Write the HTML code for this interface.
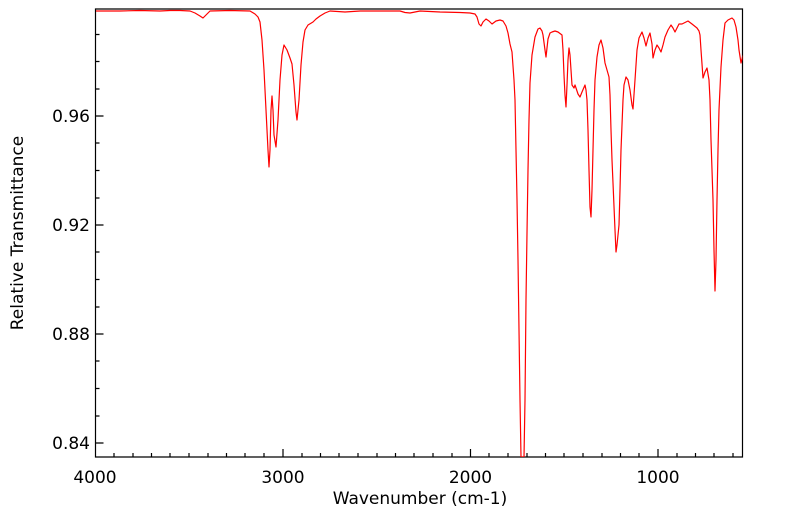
<!DOCTYPE html>
<html><head><meta charset="utf-8"><style>
html,body{margin:0;padding:0;background:#fff;}
svg{display:block;font-family:"DejaVu Sans","Liberation Sans",sans-serif;}
</style></head><body>
<svg width="799" height="516" viewBox="0 0 799 516" xmlns="http://www.w3.org/2000/svg">
<rect x="0" y="0" width="799" height="516" fill="#fff"/>
<g stroke="#000" stroke-width="1.2" fill="none">
<path d="M95.5,457 V9 H742.5 V457 Z"/>
<path d="M283,457 v-8 M470.5,457 v-8 M658,457 v-8"/>
<path d="M114,457 v-4 M133,457 v-4 M151.5,457 v-4 M170,457 v-4 M189,457 v-4 M208,457 v-4 M226.5,457 v-4 M245,457 v-4 M264,457 v-4 M302,457 v-4 M320.5,457 v-4 M339,457 v-4 M358,457 v-4 M377,457 v-4 M395.5,457 v-4 M414,457 v-4 M433,457 v-4 M452,457 v-4 M489,457 v-4 M508,457 v-4 M527,457 v-4 M545.5,457 v-4 M564,457 v-4 M583,457 v-4 M602,457 v-4 M620.5,457 v-4 M639,457 v-4 M677,457 v-4 M695.5,457 v-4 M714,457 v-4 M733,457 v-4"/>
<path d="M95.5,116 h8 M95.5,225 h8 M95.5,334 h8 M95.5,443 h8"/>
<path d="M95.5,34.5 h4 M95.5,61.5 h4 M95.5,89 h4 M95.5,143 h4 M95.5,170.5 h4 M95.5,198 h4 M95.5,252 h4 M95.5,279.5 h4 M95.5,307 h4 M95.5,361 h4 M95.5,388.5 h4 M95.5,416 h4"/>
</g>
<g font-size="17" fill="#000">
<text x="90" y="122" text-anchor="end">0.96</text>
<text x="90" y="231" text-anchor="end">0.92</text>
<text x="90" y="340" text-anchor="end">0.88</text>
<text x="90" y="449" text-anchor="end">0.84</text>
<text x="95" y="483" text-anchor="middle">4000</text>
<text x="283" y="483" text-anchor="middle">3000</text>
<text x="470.5" y="483" text-anchor="middle">2000</text>
<text x="658" y="483" text-anchor="middle">1000</text>
<text x="420" y="504" text-anchor="middle">Wavenumber (cm-1)</text>
<text x="0" y="0" transform="translate(23,233) rotate(-90)" text-anchor="middle">Relative Transmittance</text>
</g>
<svg x="95.5" y="9" width="647" height="448" viewBox="95.5 9 647 448" overflow="hidden">
<polyline fill="none" stroke="#f00" stroke-width="1.2" stroke-linejoin="round" points="
96,11 120,11 140,10.5 160,11 170,10.5 180,10.5 190,11 195,13 200,16 203,18 206,15 210,11 230,10.5 250,11 255,14 258,17 260,22 262,40 264,70 266,110 268,150 269,167 270,150 271,110 272,96 273,110 274,135 276,147 278,120 280,80 282,55 284,45 287,50 290,58 292,64 294,85 296,112 297,120 299,100 301,65 303,42 305,30 308,25 313,22 316,19 320,16 325,13 330,11 345,12 360,11 380,11 400,11 405,12.5 410,13 420,11 440,12 460,12.5 470,13 475,14 477,17 479,24 481,26 483,22 486,19 489,21 492,24 496,21 500,20 503,21 506,26 508,33 510,44 512,52 514,80 515,100 516,150 517,200 518,260 519,330 520,400 521,457 524,457 525,400 526,300 527,233 528,170 529,120 530,83 532,55 535,37 538,29 540,28 542,31 543,35 545,50 546,57 547,48 548,39 550,33 552,32 555,31 558,32 562,35 563,50 564,75 565,95 566,107 567,85 568,60 569,48 570,55 571,70 572,85 574,88 575,85 576,88 578,94 580,97 582,92 585,85 586,90 587,100 588,130 589,170 590,207 591,217 592,190 593,150 594,110 595,80 597,57 599,45 601,40 603,48 605,63 607,70 609,77 610,95 611,130 612,160 613,183 615,230 616,252 617,245 618,235 619,225 620,190 621,150 623,100 624,85 626,77 628,80 630,90 632,105 633,109 635,80 637,50 639,38 642,32 644,38 646,46 648,38 650,33 652,44 653,58 655,50 657,45 659,48 661,52 663,45 665,37 668,30 671,25 673,28 675,32 677,28 679,24 682,24 684,23 688,21 692,24 697,28 699,31 700,35 701,50 703,78 705,72 707,68 709,80 710,100 711,140 712,170 713,200 714,250 715,291 716,260 717,200 718,150 719,110 721,67 723,40 725,23 728,20 732,18 734,20 736,27 738,40 739,50 741,63 743,55"/>
</svg>
</svg>
</body></html>
